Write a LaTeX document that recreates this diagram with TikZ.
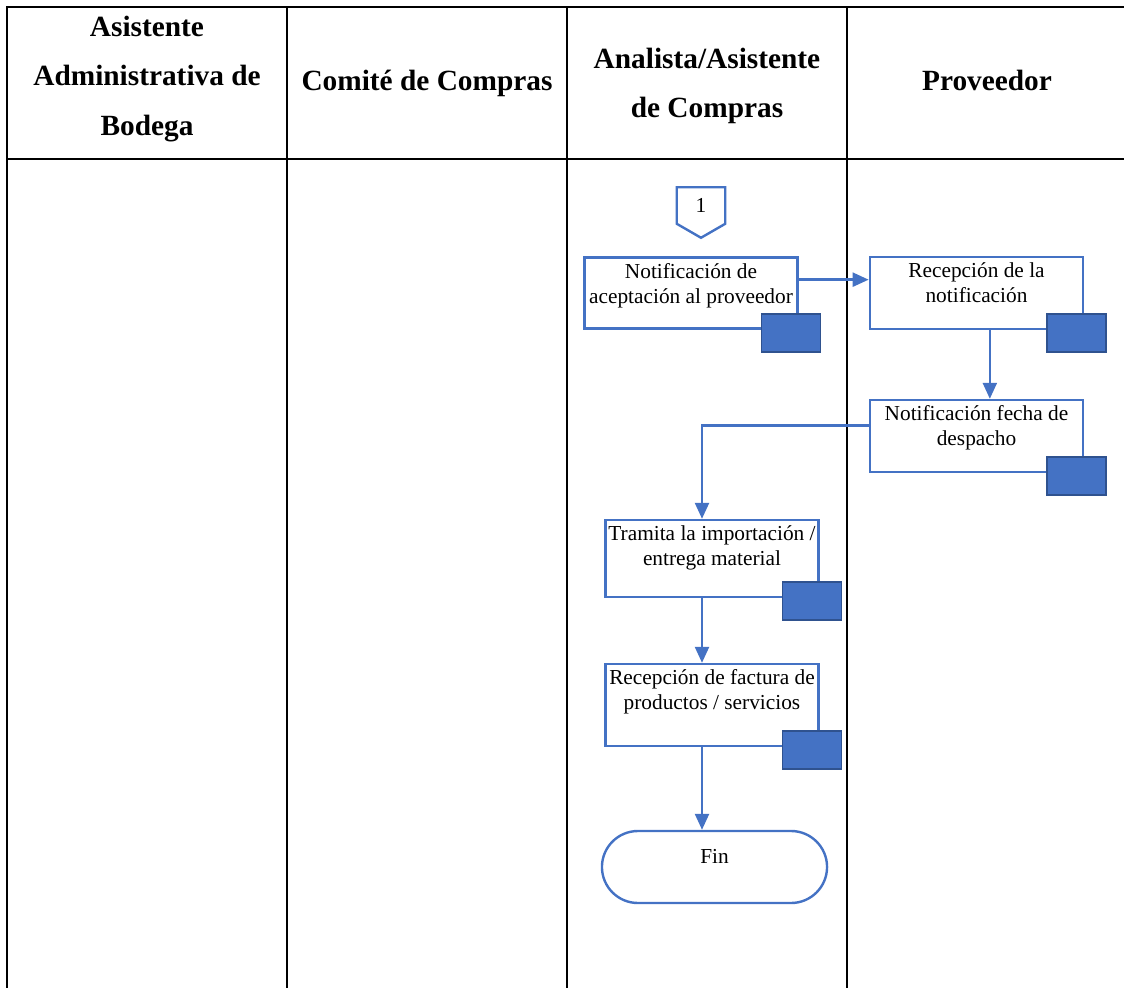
\documentclass[tikz,border=0pt]{standalone}
\usepackage{fontspec}
\setmainfont{Liberation Serif}
\usetikzlibrary{arrows.meta, shapes.misc}
\definecolor{flow-blue}{HTML}{4472C4}
\definecolor{flow-dark}{HTML}{2F528F}
\newcommand{\steptext}[2]{\parbox[c][#1][t]{160pt}{\vspace*{2.5pt}\centering\strut #2}}

\begin{document}
\begin{tikzpicture}[x=0.75pt, y=-0.75pt,
    lane/.style={line width=1.5pt, black},
    head/.style={font=\fontsize{22}{37}\selectfont\bfseries, align=center},
    proc/.style={draw=flow-blue, line width=1.8pt, fill=white, inner sep=0pt,
      font=\fontsize{16}{18.75}\selectfont},
    doc/.style={draw=flow-dark, line width=1.2pt, fill=flow-blue,
      minimum width=44.25pt, minimum height=28.5pt, inner sep=0pt},
    flow/.style={line width=1.8pt, flow-blue, -{Triangle[length=12pt, width=10.5pt]}}]
  \useasboundingbox (0,0) rectangle (1124,988);
  % swimlanes
  \draw[lane] (6.5,995) -- (6.5,7) -- (1130,7);
  \draw[lane] (6.5,159) -- (1130,159);
  \foreach \x in {287, 567, 847}
    \draw[lane] (\x,7) -- (\x,995);
  \node[head] (h1) at (147,79) {Asistente\\Administrativa de\\Bodega};
  \node[head] (h2) at (427,83) {Comité de Compras};
  \node[head] (h3) at (707,86) {Analista/Asistente\\de Compras};
  \node[head] (h4) at (987,80) {Proveedor};
  % connector 1
  \node[font=\fontsize{16}{18.75}\selectfont, minimum width=36pt, minimum height=37.5pt,
    text height=10.8pt, text depth=10.5pt, inner sep=0pt] (con1) at (701,212.5) {1};
  \draw[flow-blue, line width=1.8pt] (con1.north west) -- (con1.north east)
    -- ([yshift=10.5pt]con1.south east) -- (con1.south)
    -- ([yshift=10.5pt]con1.south west) -- cycle;
  % process steps
  \node[proc] (notif) at (691,293) {\steptext{53.25pt}{Notificación de\\aceptación al proveedor}};
  \node[proc] (recep) at (976.5,293) {\steptext{54pt}{Recepción de la\\notificación}};
  \node[proc] (fecha) at (976.5,436) {\steptext{54pt}{Notificación fecha de\\despacho}};
  \node[proc] (tramita) at (712,558.5) {\steptext{57.75pt}{Tramita la importación /\\entrega material}};
  \node[proc] (fact) at (712,705) {\steptext{61.5pt}{Recepción de factura de\\productos / servicios}};
  \node[rounded rectangle, draw=flow-blue, line width=1.8pt, minimum width=175.5pt,
    minimum height=54pt, text height=11pt, text depth=16pt,
    font=\fontsize{16}{18.75}\selectfont] (fin) at (714.5,867) {Fin};
  \node[doc] (notifdoc) at ([shift={(-8,3)}]notif.south east) {};
  \node[doc] (recepdoc) at ([shift={(-8,3)}]recep.south east) {};
  \node[doc] (fechadoc) at ([shift={(-8,3)}]fecha.south east) {};
  \node[doc] (tramitadoc) at ([shift={(-8,3)}]tramita.south east) {};
  \node[doc] (factdoc) at ([shift={(-8,3)}]fact.south east) {};
  % flow
  \draw[flow] ([yshift=10pt]notif.east) -- ([yshift=10pt]recep.west);
  \draw[flow] ([xshift=10pt]recep.south) -- ([xshift=10pt]fecha.north);
  \draw[flow] ([yshift=8pt]fecha.west) -| ([xshift=-7.5pt]tramita.north);
  \draw[flow] ([xshift=-7.5pt]tramita.south) -- ([xshift=-7.5pt]fact.north);
  \draw[flow] ([xshift=-7.5pt]fact.south) -- ([xshift=-9.375pt]fin.north);
\end{tikzpicture}
\end{document}
